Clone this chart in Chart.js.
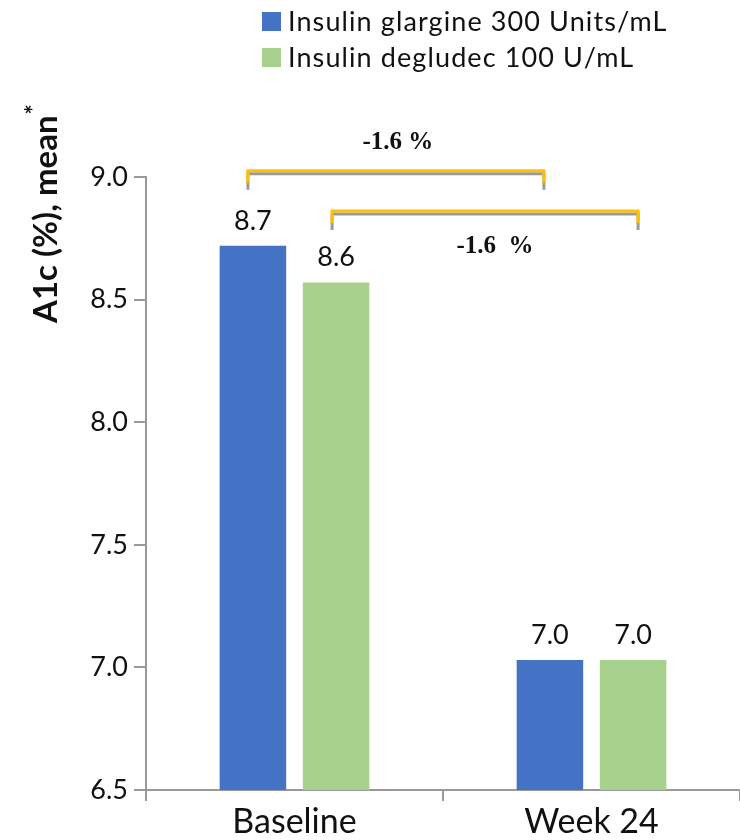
<!DOCTYPE html>
<html>
<head>
<meta charset="utf-8">
<script src="https://cdn.jsdelivr.net/npm/chart.js@4"></script>
<style>
  html, body { margin: 0; padding: 0; overflow: hidden; background: #fff; }
  canvas { display: block; }
</style>
</head>
<body>
<canvas id="c" width="740" height="860"></canvas>
<script>
(() => {
    // Данные графика
    const categories = ['Baseline', 'Week 24']
    const seriesNames = ['Insulin glargine 300 Units/mL', 'Insulin degludec 100 U/mL']
    const glargine = [8.72, 7.03]
    const degludec = [8.57, 7.03]
    const yTicks = [6.5, 7.0, 7.5, 8.0, 8.5, 9.0]
    const axisTitle = 'A1c (%), mean'
    // Скобки с разницей: серия, подпись, уровень скобки, уровень подписи
    const bracketSeries = [0, 1]
    const bracketTexts = ['-1.6 %', '-1.6  %']
    const bracketLevels = [9.03, 8.865]
    const bracketTextLevels = [9.14, 8.715]

    const BLUE = '#4472C4'
    const GREEN = '#A9D18E'
    const FONT = 'Lato, "DejaVu Sans", sans-serif'
    // небольшие сдвиги концов скобок и подписей (px)
    const bracketShift = [[-5, -6], [-4, 5]]
    const bracketTextShift = [2, 10]

    // Подписи значений над столбцами
    const valueLabels = {
        id: 'valueLabels',
        afterDatasetsDraw(chart) {
            const ctx = chart.ctx
            ctx.save()
            ctx.font = `27px ${FONT}`
            ctx.fillStyle = '#111'
            ctx.textAlign = 'center'
            ctx.textBaseline = 'alphabetic'
            chart.data.datasets.forEach((ds, i) => {
                chart.getDatasetMeta(i).data.forEach((bar, j) => {
                    ctx.fillText(ds.data[j].toFixed(1), bar.x, bar.y - 16)
                })
            })
            ctx.restore()
        }
    }

    // Скобки между Baseline и Week 24
    const bracketPlugin = {
        id: 'brackets',
        afterDraw(chart) {
            const ctx = chart.ctx
            const y = chart.scales.y
            bracketSeries.forEach((s, k) => {
                const bars = chart.getDatasetMeta(s).data
                const x1 = bars[0].x + bracketShift[k][0]
                const x2 = bars[1].x + bracketShift[k][1]
                const top = y.getPixelForValue(bracketLevels[k])
                ctx.save()
                // серая тень
                ctx.strokeStyle = '#9a9a9a'
                ctx.lineWidth = 3
                ctx.beginPath()
                ctx.moveTo(x1, top + 20)
                ctx.lineTo(x1, top + 4)
                ctx.lineTo(x2, top + 4)
                ctx.lineTo(x2, top + 20)
                ctx.stroke()
                // жёлтая скобка
                ctx.strokeStyle = '#FFC000'
                ctx.lineWidth = 3
                ctx.beginPath()
                ctx.moveTo(x1, top + 13)
                ctx.lineTo(x1, top + 1)
                ctx.lineTo(x2, top + 1)
                ctx.lineTo(x2, top + 13)
                ctx.stroke()
                // подпись
                ctx.font = 'bold 25px "Liberation Serif", "DejaVu Serif", serif'
                ctx.fillStyle = '#111'
                ctx.textAlign = 'center'
                ctx.textBaseline = 'middle'
                ctx.fillText(bracketTexts[k], (x1 + x2) / 2 + bracketTextShift[k], y.getPixelForValue(bracketTextLevels[k]))
                ctx.restore()
            })
        }
    }

    // Заголовок оси Y и легенда
    const extras = {
        id: 'extras',
        afterDraw(chart) {
            const ctx = chart.ctx
            ctx.save()
            ctx.translate(57, 323)
            ctx.rotate(-Math.PI / 2)
            ctx.fillStyle = '#111'
            ctx.textBaseline = 'alphabetic'
            ctx.textAlign = 'left'
            ctx.font = `bold 33px ${FONT}`
            const w = ctx.measureText(axisTitle).width
            ctx.fillText(axisTitle, 0, 0)
            ctx.font = `bold 24px ${FONT}`
            ctx.fillText('*', w + 1, -14)
            ctx.restore()

            ctx.save()
            ctx.font = `27px ${FONT}`
            ctx.letterSpacing = '1.1px'
            ctx.textBaseline = 'middle'
            chart.data.datasets.forEach((ds, i) => {
                const cy = 21.5 + i * 36
                ctx.fillStyle = ds.backgroundColor
                ctx.fillRect(262, cy - 9.5, 19, 19)
                ctx.fillStyle = '#111'
                ctx.fillText(ds.label, 288, cy + 1)
            })
            ctx.restore()
        }
    }

    const canvas = document.getElementById('c')
    new Chart(canvas, {
        type: 'bar',
        data: {
            labels: categories,
            datasets: [
                { label: seriesNames[0], data: glargine, backgroundColor: BLUE },
                { label: seriesNames[1], data: degludec, backgroundColor: GREEN }
            ]
        },
        options: {
            responsive: false,
            animation: false,
            layout: { padding: { top: 177, right: 0, left: 0, bottom: 0 } },
            datasets: {
                bar: { categoryPercentage: 0.56, barPercentage: 0.8 }
            },
            plugins: {
                legend: { display: false },
                tooltip: { enabled: false }
            },
            scales: {
                x: {
                    grid: { display: true, drawOnChartArea: false, offset: true, tickLength: 11, color: '#999', lineWidth: 2 },
                    border: { color: '#999', width: 2 },
                    ticks: { color: '#111', font: { family: FONT, size: 34 }, padding: 1 },
                    afterFit: s => { s.height = 70 }
                },
                y: {
                    min: 6.5,
                    max: 9.0,
                    afterBuildTicks: s => { s.ticks = yTicks.map(v => ({ value: v })) },
                    grid: { display: true, drawOnChartArea: false, tickLength: 12, color: '#999', lineWidth: 2 },
                    border: { color: '#999', width: 2 },
                    ticks: {
                        color: '#111',
                        font: { family: FONT, size: 27 },
                        padding: 6,
                        callback: v => v.toFixed(1)
                    },
                    afterFit: s => { s.width = 146 }
                }
            }
        },
        plugins: [valueLabels, bracketPlugin, extras]
    })
})()
</script>
</body>
</html>
